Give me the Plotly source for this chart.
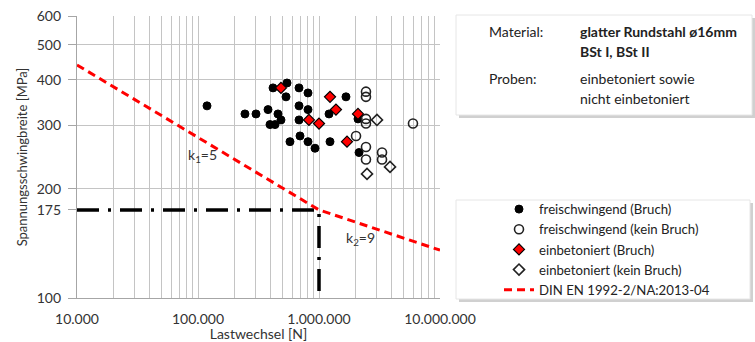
import plotly.graph_objects as go
import numpy as np

# ---------------- data ----------------
frei_bruch_N = [118700, 244400, 301500, 379000, 458000, 485000, 393600, 433000,
                416800, 544000, 533700, 683700, 811000, 683700, 811000, 683700,
                696600, 575600, 811000, 926800, 1210000, 1233000, 1671000,
                2100000, 2142000]
frei_bruch_S = [339, 322, 322, 331, 322, 310, 301, 301,
                380, 392, 359, 380, 368, 339, 331, 310,
                280, 270, 270, 259, 322, 270, 359,
                312, 252]

frei_kein_N = [2445000, 2445000, 2445000, 2445000, 5980000, 2023000, 2445000,
               2445000, 3318000, 3318000]
frei_kein_S = [371, 359, 312, 303, 303, 280, 261, 241, 252, 241]

ein_bruch_N = [485000, 826000, 1000000, 1233000, 1381000, 2100000, 1704000]
ein_bruch_S = [380, 310, 303, 359, 331, 322, 270]

ein_kein_N = [3014000, 3864000, 2494000]
ein_kein_S = [310, 230, 220]

din_N = [1e4, 1e6, 1e7]
din_S = [439.6, 175, 135.5]

ref_N = [1e4, 1e6, 1e6]
ref_S = [175, 175, 100]

x_tickvals = [1e4, 1e5, 1e6, 1e7]
x_ticktext = ["10.000", "100.000", "1.000.000", "10.000.000"]
y_tickvals = [100, 175, 200, 300, 400, 500, 600]
y_ticktext = ["100", "175", "200", "300", "400", "500", "600"]
y_gridvals = [200, 300, 400, 500, 600]

FONT = "Lato"
TXT = "#222222"

# ---------------- geometry helpers ----------------
W, H = 755, 342
L, R, T, B = 77, 440, 16, 298


def px(xp):
    return (xp - L) / (R - L)


def py(yp):
    return (B - yp) / (B - T)


fig = go.Figure()

fig.add_trace(go.Scatter(x=ref_N, y=ref_S, mode="lines", showlegend=False,
                         line=dict(color="black", width=3.5, dash="22px,9px,3px,9px"),
                         hoverinfo="skip"))

fig.add_trace(go.Scatter(x=frei_bruch_N, y=frei_bruch_S, mode="markers",
                         name="freischwingend (Bruch)",
                         marker=dict(symbol="circle", size=8, color="black",
                                     line=dict(color="black", width=1))))
fig.add_trace(go.Scatter(x=frei_kein_N, y=frei_kein_S, mode="markers",
                         name="freischwingend (kein Bruch)",
                         marker=dict(symbol="circle-open", size=9, color="#222222",
                                     line=dict(width=1.6))))
fig.add_trace(go.Scatter(x=ein_bruch_N, y=ein_bruch_S, mode="markers",
                         name="einbetoniert (Bruch)",
                         marker=dict(symbol="diamond", size=8.5, color="#ff0000",
                                     line=dict(color="black", width=1.2))))
fig.add_trace(go.Scatter(x=ein_kein_N, y=ein_kein_S, mode="markers",
                         name="einbetoniert (kein Bruch)",
                         marker=dict(symbol="diamond-open", size=8.5, color="#222222",
                                     line=dict(width=1.6))))
fig.add_trace(go.Scatter(x=din_N, y=din_S, mode="lines",
                         name="DIN EN 1992-2/NA:2013-04",
                         line=dict(color="#ff0000", width=3, dash="8px,5px")))

# minor tick positions for log x axis
x_minor = [m * 10 ** e for e in range(4, 7) for m in range(2, 10)]

fig.update_xaxes(type="log", range=[4, 7], tickvals=x_tickvals, ticktext=x_ticktext,
                 automargin=False,
                 showgrid=True, gridcolor="#c4c4c4", gridwidth=1.3,
                 showline=True, linecolor="#a6a6a6", linewidth=1.3,
                 ticks="outside", ticklen=8, tickcolor="rgba(0,0,0,0)",
                 tickfont=dict(family=FONT, size=14, color="#333333"),
                 minor=dict(tickvals=x_minor, showgrid=True, gridcolor="#c4c4c4",
                            gridwidth=1.3, ticks=""),
                 title=dict(text="Lastwechsel [N]", standoff=0,
                            font=dict(family=FONT, size=14, color="#333333")),
                 zeroline=False)
fig.update_yaxes(type="log", range=[2, np.log10(600)], tickvals=y_tickvals,
                 ticktext=y_ticktext, showgrid=False, automargin=False,
                 showline=True, linecolor="#a6a6a6", linewidth=1.3,
                 ticks="outside", ticklen=8, tickcolor="#a6a6a6",
                 ticklabelstandoff=4,
                 tickfont=dict(family=FONT, size=14, color="#333333"),
                 minor=dict(tickvals=y_gridvals, showgrid=True, gridcolor="#c4c4c4",
                            gridwidth=1.3, ticks=""),
                 title=dict(text="Spannungsschwingbreite [MPa]", standoff=6,
                            font=dict(family=FONT, size=13, color="#333333")),
                 zeroline=False)

shapes = []
# text box (shadow + box)
for (x0, y0, x1, y1) in [(456, 15, 752, 115), (456, 200, 750, 299)]:
    shapes.append(dict(type="rect", xref="paper", yref="paper",
                       x0=px(x0 + 3), x1=px(x1 + 3), y0=py(y1 + 3), y1=py(y0 + 3),
                       fillcolor="#d0d0d0", line=dict(width=0), layer="below"))
    shapes.append(dict(type="rect", xref="paper", yref="paper",
                       x0=px(x0), x1=px(x1), y0=py(y1), y1=py(y0),
                       fillcolor="white", line=dict(color="#e6e6e6", width=1), layer="below"))

annotations = []


def txt(x, y, s, bold=False, size=14):
    annotations.append(dict(xref="paper", yref="paper", x=px(x), y=py(y),
                            text=("<b>%s</b>" % s) if bold else s, showarrow=False,
                            xanchor="left", yanchor="middle",
                            font=dict(family=FONT, size=size, color=TXT)))


txt(487, 32, "Material:")
txt(578, 32, "glatter Rundstahl ø16mm", bold=True)
txt(578, 52, "BSt I, BSt II", bold=True)
txt(487, 78, "Proben:")
txt(578, 78, "einbetoniert sowie")
txt(578, 98, "nicht einbetoniert")

annotations.append(dict(xref="paper", yref="paper", x=px(186), y=py(155),
                        text="k<sub>1</sub>=5", showarrow=False, xanchor="left",
                        yanchor="middle", font=dict(family=FONT, size=14, color="#333333")))
annotations.append(dict(xref="paper", yref="paper", x=px(344), y=py(238),
                        text="k<sub>2</sub>=9", showarrow=False, xanchor="left",
                        yanchor="middle", font=dict(family=FONT, size=14, color="#333333")))

fig.update_layout(
    width=W, height=H,
    margin=dict(l=L, r=W - R, t=T, b=H - B, autoexpand=False),
    paper_bgcolor="white", plot_bgcolor="white",
    shapes=shapes, annotations=annotations,
    legend=dict(x=px(499), y=py(194), xanchor="left", yanchor="top",
                bgcolor="rgba(0,0,0,0)", borderwidth=0,
                font=dict(family=FONT, size=13.2, color=TXT),
                tracegroupgap=0, itemwidth=30),
    showlegend=True,
)

fig.write_html("out.html")
